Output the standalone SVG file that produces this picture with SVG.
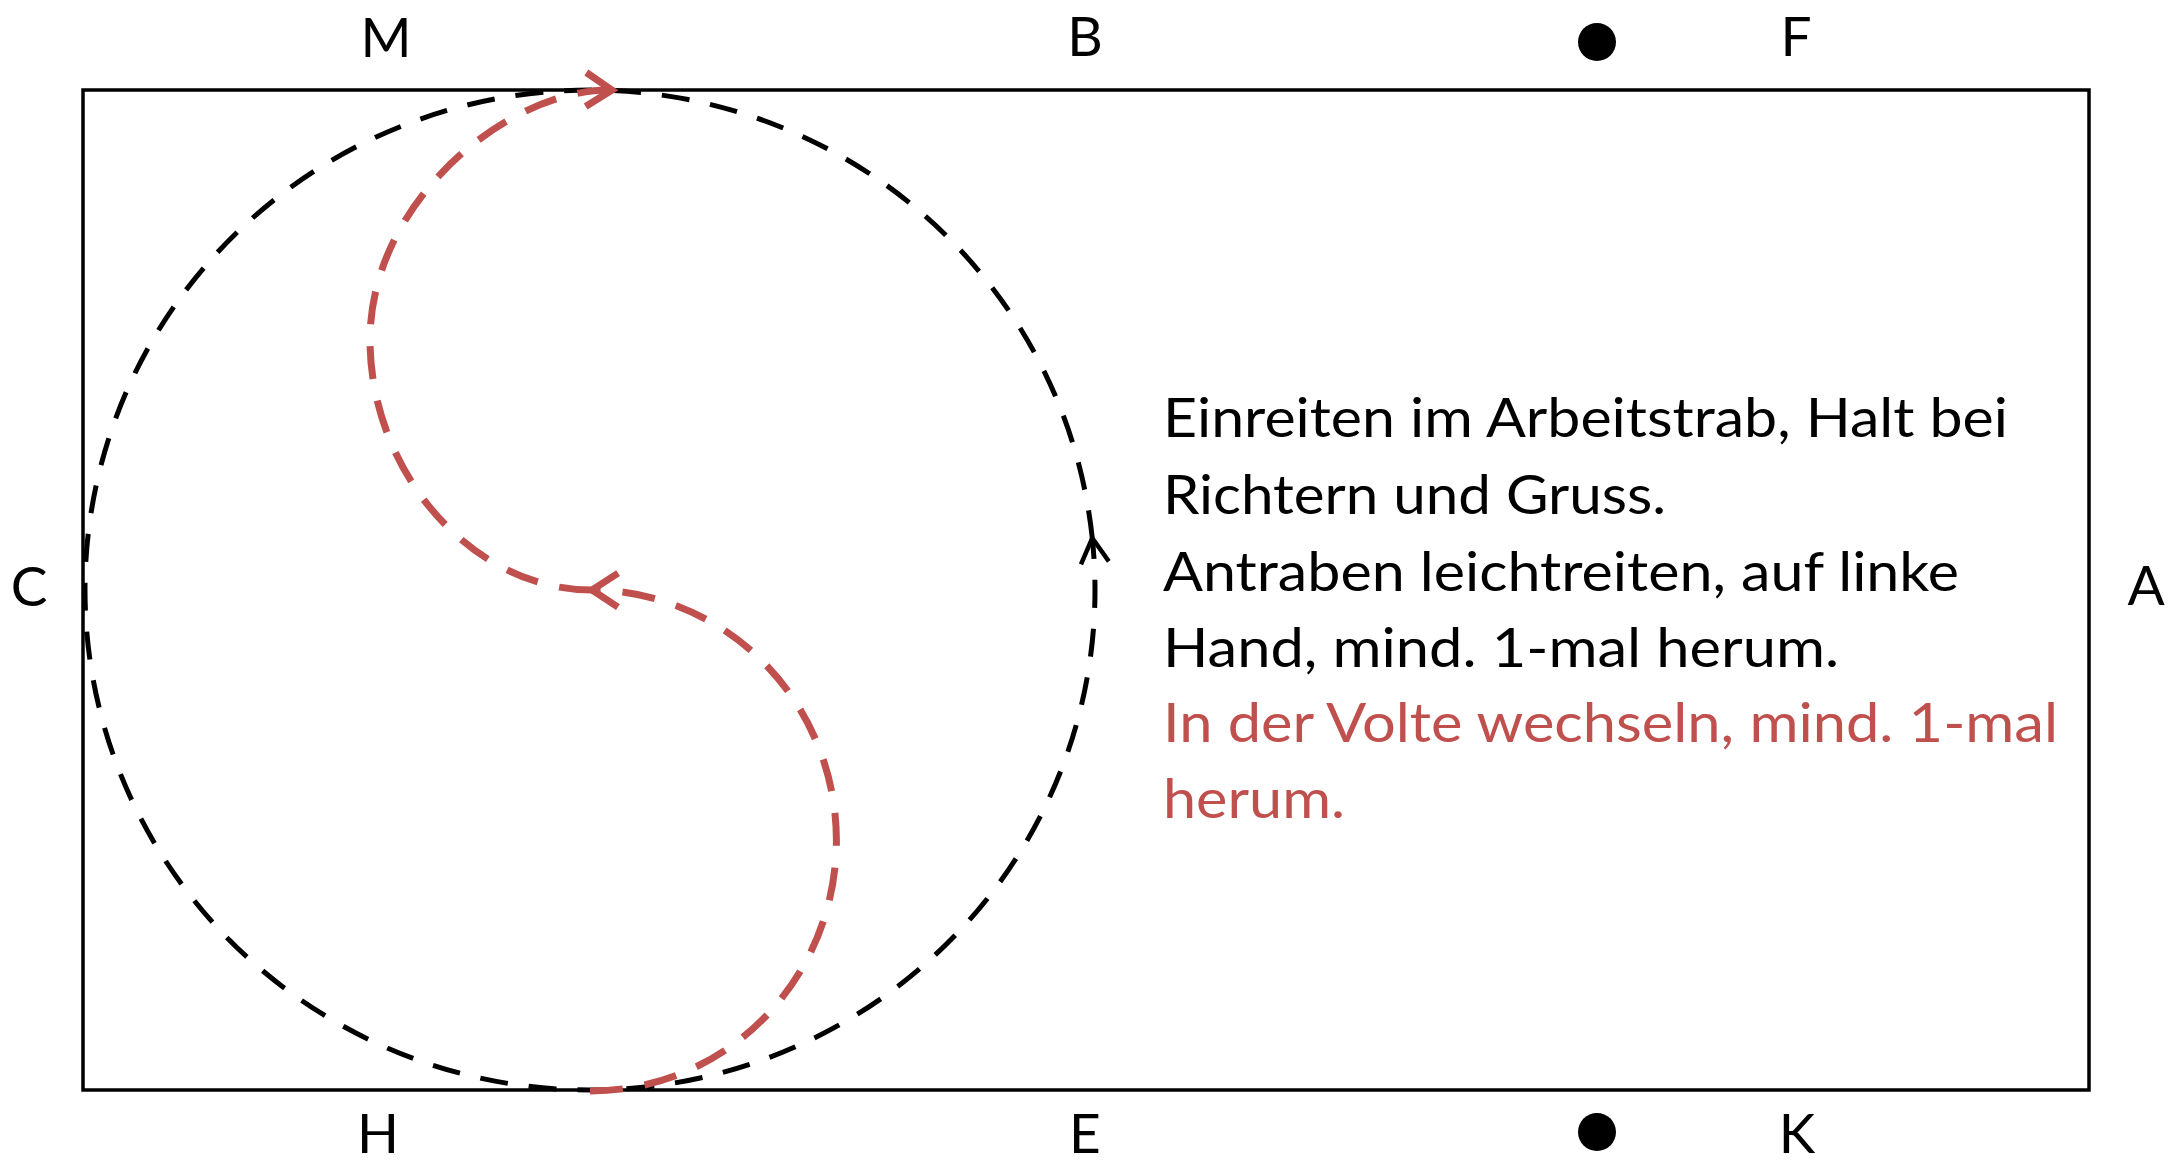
<svg xmlns="http://www.w3.org/2000/svg" width="2177" height="1161" viewBox="0 0 2177 1161">
  <style>
    .lbl { font-family: "Lato", "Liberation Sans", sans-serif; font-size: 55px; fill: #000; text-anchor: middle; }
    .txt { font-family: "Lato", "Liberation Sans", sans-serif; font-size: 54px; fill: #000; }
    .red { fill: #C0504D; }
    .volte { fill: none; stroke: #000; stroke-width: 5; stroke-dasharray: 28 21; }
    .path2 { fill: none; stroke: #C0504D; stroke-width: 7; stroke-dasharray: 33 22; }
  </style>
  <defs>
    <marker id="arrBlack" markerUnits="userSpaceOnUse" markerWidth="40" markerHeight="40" viewBox="-30 -20 40 40" refX="0" refY="0" orient="auto">
      <path d="M-25,-14 L0,0 L-25,14" fill="none" stroke="#000" stroke-width="4.5" stroke-dasharray="none"/>
    </marker>
    <marker id="arrRed" markerUnits="userSpaceOnUse" markerWidth="44" markerHeight="44" viewBox="-34 -22 44 44" refX="0" refY="0" orient="auto">
      <path d="M-26,-17 L0,0 L-26,17" fill="none" stroke="#C0504D" stroke-width="7" stroke-dasharray="none"/>
    </marker>
  </defs>
  <rect width="2177" height="1161" fill="#fff"/>

  <g id="arena">
    <rect x="83" y="90" width="2006" height="1000" fill="none" stroke="#000" stroke-width="3.5"/>
  </g>

  <g id="label-M"><text class="lbl" x="386" y="57">M</text></g>
  <g id="label-B"><text class="lbl" x="1085" y="56">B</text></g>
  <g id="label-F"><text class="lbl" x="1796" y="56">F</text></g>
  <g id="label-C"><text class="lbl" x="29" y="606">C</text></g>
  <g id="label-A"><text class="lbl" x="2146" y="605">A</text></g>
  <g id="label-H"><text class="lbl" x="378" y="1153">H</text></g>
  <g id="label-E"><text class="lbl" x="1085" y="1153">E</text></g>
  <g id="label-K"><text class="lbl" x="1797" y="1153">K</text></g>

  <g id="dot-F"><circle cx="1597" cy="42" r="19" fill="#000"/></g>
  <g id="dot-K"><circle cx="1597" cy="1132" r="19" fill="#000"/></g>

  <g id="connectors">
    <path class="volte" d="M1092.26,538 A505,500 0 0 0 85,590 A505,500 0 1 0 1092.26,538" marker-end="url(#arrBlack)"/>
    <path class="path2" d="M590,1091 A245,250 0 0 0 592,590" marker-end="url(#arrRed)"/>
    <path class="path2" d="M592,590 C470,590 370,470 370,340 C370,200 510,88 612,90" marker-end="url(#arrRed)"/>
  </g>

  <g id="description">
    <text class="txt" x="1163" y="437" textLength="845" lengthAdjust="spacingAndGlyphs">Einreiten im Arbeitstrab, Halt bei</text>
    <text class="txt" x="1163" y="514" textLength="503" lengthAdjust="spacingAndGlyphs">Richtern und Gruss.</text>
    <text class="txt" x="1163" y="591" textLength="796" lengthAdjust="spacingAndGlyphs">Antraben leichtreiten, auf linke</text>
    <text class="txt" x="1163" y="667" textLength="676" lengthAdjust="spacingAndGlyphs">Hand, mind. 1-mal herum.</text>
    <text class="txt red" x="1163" y="742" textLength="895" lengthAdjust="spacingAndGlyphs">In der Volte wechseln, mind. 1-mal</text>
    <text class="txt red" x="1163" y="818" textLength="182" lengthAdjust="spacingAndGlyphs">herum.</text>
  </g>
</svg>
